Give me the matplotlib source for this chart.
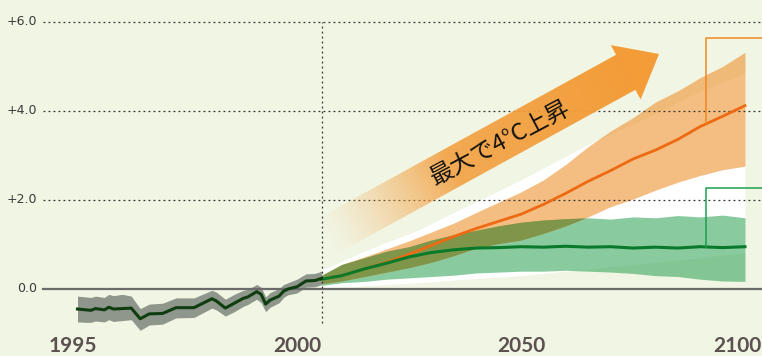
import numpy as np
import matplotlib.pyplot as plt
from matplotlib.patches import Polygon

# --- data ---
hist_years = [1951, 1953, 1954, 1955, 1957, 1958, 1959, 1961, 1963, 1965, 1967, 1970,
              1973, 1977, 1981, 1982, 1984, 1986, 1988, 1989, 1991, 1992, 1993, 1994,
              1996, 1997, 1998, 2000, 2002, 2004, 2005.5]
hist_mean = [-0.45, -0.47, -0.48, -0.44, -0.47, -0.41, -0.45, -0.44, -0.43, -0.67, -0.56, -0.55,
             -0.42, -0.42, -0.22, -0.27, -0.43, -0.32, -0.21, -0.18, -0.06, -0.12, -0.34, -0.25,
             -0.16, -0.05, 0.0, 0.05, 0.18, 0.19, 0.24]
hist_hi = [-0.16, -0.18, -0.19, -0.16, -0.19, -0.12, -0.15, -0.12, -0.16, -0.44, -0.34, -0.32,
           -0.2, -0.2, -0.03, -0.07, -0.23, -0.12, -0.03, -0.01, 0.1, 0.04, -0.18, -0.08,
           0.01, 0.1, 0.14, 0.22, 0.34, 0.35, 0.4]
hist_lo = [-0.74, -0.75, -0.75, -0.72, -0.74, -0.69, -0.73, -0.71, -0.69, -0.93, -0.81, -0.79,
           -0.65, -0.64, -0.43, -0.47, -0.61, -0.51, -0.39, -0.35, -0.23, -0.31, -0.51, -0.41,
           -0.31, -0.19, -0.13, -0.09, 0.04, 0.05, 0.1]

proj_years = [2005.5, 2010, 2015, 2020, 2025, 2030, 2035, 2040, 2045, 2050,
              2055, 2060, 2065, 2070, 2075, 2080, 2085, 2090, 2095, 2100]
high_mean = [0.22, 0.3, 0.45, 0.6, 0.78, 0.98, 1.18, 1.36, 1.52, 1.68,
             1.9, 2.15, 2.42, 2.66, 2.92, 3.12, 3.36, 3.65, 3.88, 4.12]
high_hi = [0.3, 0.55, 0.72, 0.9, 1.08, 1.28, 1.48, 1.72, 1.95, 2.18,
           2.45, 2.8, 3.2, 3.55, 3.85, 4.2, 4.45, 4.75, 5.0, 5.32]
high_lo = [0.12, 0.18, 0.28, 0.38, 0.48, 0.6, 0.75, 0.92, 1.02, 1.1,
           1.25, 1.42, 1.62, 1.85, 2.02, 2.22, 2.4, 2.55, 2.68, 2.76]
low_mean = [0.22, 0.3, 0.45, 0.58, 0.72, 0.82, 0.88, 0.92, 0.93, 0.95,
            0.94, 0.96, 0.94, 0.95, 0.92, 0.94, 0.92, 0.95, 0.93, 0.95]
low_hi = [0.32, 0.55, 0.7, 0.85, 0.95, 1.1, 1.22, 1.32, 1.42, 1.5,
          1.55, 1.58, 1.6, 1.57, 1.62, 1.6, 1.65, 1.62, 1.66, 1.6]
low_lo = [0.08, 0.14, 0.17, 0.22, 0.25, 0.28, 0.31, 0.36, 0.38, 0.4,
          0.4, 0.42, 0.4, 0.38, 0.35, 0.3, 0.28, 0.22, 0.18, 0.17]

env_years = [2005.5, 2015, 2020, 2027, 2035, 2050, 2065, 2080, 2090, 2100]
env_lo = [0.02, 0.07, 0.1, 0.14, 0.2, 0.3, 0.45, 0.6, 0.7, 0.82]
env_hi = [0.42, 0.85, 1.05, 1.32, 1.72, 2.45, 3.25, 3.95, 4.45, 4.85]

ytick_vals = [0.0, 2.0, 4.0, 6.0]
ytick_labels = ["0.0", "+2.0", "+4.0", "+6.0"]
xtick_vals = [1950, 2000, 2050, 2100]
xtick_labels = ["1995", "2000", "2050", "2100"]

BG = "#f1f5e4"
XMIN, XMAX = 1933.7, 2103.8
YMIN, YMAX = -1.506, 6.494


# pixel (top-left origin) -> data, only for the decorative arrow
def px2x(px):
    return XMIN + px * (XMAX - XMIN) / 762


def py2y(py):
    return YMAX - py * (YMAX - YMIN) / 356


fig = plt.figure(figsize=(7.62, 3.56), dpi=100, facecolor=BG)
ax = fig.add_axes([0, 0, 1, 1])
ax.set_facecolor(BG)
ax.axis("off")

# bands
ax.fill_between(env_years, env_lo, env_hi, color="white", lw=0, zorder=1)
ax.fill_between(proj_years, low_lo, low_hi, color="#3aa860", alpha=0.6, lw=0, zorder=2)
ax.fill_between(proj_years, high_lo, high_hi, color="#ee9535", alpha=0.62, lw=0, zorder=3)
ov_lo = np.maximum(high_lo, low_lo)
ov_hi = np.minimum(high_hi, low_hi)
ax.fill_between(proj_years, ov_lo, ov_hi, where=ov_hi > ov_lo, interpolate=True,
                color="#7f964a", lw=0, zorder=4)
ax.fill_between(hist_years, hist_lo, hist_hi, color="#8f978c", lw=0, zorder=4)

# grid lines
for v, lab in zip(ytick_vals[1:], ytick_labels[1:]):
    ax.plot([1943.3, XMAX], [v, v], color="#333333", lw=0.9, ls=(0, (1.5, 2.5)), zorder=5)
    ax.text(1942, v, lab, ha="right", va="center", fontsize=9, color="#3a3a3a")
ax.plot([1943.3, XMAX], [0, 0], color="#6b6b6b", lw=1.6, zorder=5)
ax.text(1942, 0, ytick_labels[0], ha="right", va="center", fontsize=9, color="#3a3a3a")
ax.plot([2005.5, 2005.5], [-0.76, 6.0], color="#333333", lw=0.9, ls=(0, (1.5, 2.5)), zorder=5)

# lines
ax.plot(proj_years, high_mean, color="#ee6a12", lw=2, zorder=6)
ax.plot(proj_years, low_mean, color="#0a7a2a", lw=2.2, zorder=6)
ax.plot(hist_years, hist_mean, color="#0f3d0f", lw=2.2, zorder=6)

# brackets
ax.plot([2091.3, 2091.3, XMAX], [3.72, 5.64, 5.64], color="#f08a1e", lw=1.1, zorder=6)
ax.plot([2091.3, 2091.3, XMAX], [0.95, 2.26, 2.26], color="#1aa050", lw=1.1, zorder=6)

# x labels (last one pushed against the right edge so it stays whole)
for v, lab in zip(xtick_vals, xtick_labels):
    if v == xtick_vals[-1]:
        ax.text(px2x(761), py2y(352), lab, ha="right", va="baseline", fontsize=15,
                fontweight="bold", family="Lato", color="#5b5250")
    else:
        ax.text(v, py2y(352), lab, ha="center", va="baseline", fontsize=15,
                fontweight="bold", family="Lato", color="#5b5250")

# arrow with gradient (pixel space)
S = np.array([326.0, 237.0])
T = np.array([659.0, 54.0])
L = np.linalg.norm(T - S)
u = (T - S) / L
n = np.array([u[1], -u[0]])
B = T - u * 38
pts = [S + n * 20, B + n * 20, B + n * 31, T, B - n * 31, B - n * 20, S - n * 20]
poly = Polygon([(px2x(p[0]), py2y(p[1])) for p in pts], closed=True,
               transform=ax.transData, fc="none", ec="none")
ax.add_patch(poly)

gx, gy = np.meshgrid(np.arange(300, 680), np.arange(30, 280))
s = ((gx - S[0]) * u[0] + (gy - S[1]) * u[1]) / L
alpha = np.clip(s / 0.38, 0, 1) ** 1.3 * 0.85 + 0.15 * np.clip((s - 0.4) / 0.5, 0, 1)
img = np.zeros(gx.shape + (4,))
img[..., 0] = 243 / 255
img[..., 1] = 156 / 255
img[..., 2] = 56 / 255
img[..., 3] = alpha
im = ax.imshow(img, extent=[px2x(300), px2x(680), py2y(280), py2y(30)],
               origin="upper", aspect="auto", interpolation="bilinear", zorder=7)
im.set_clip_path(poly)

ax.text(px2x(500), py2y(143), "最大で4°C上昇", rotation=28, rotation_mode="anchor",
        ha="center", va="center", fontsize=17, color="#111111",
        family=["Noto Sans CJK JP", "DejaVu Sans"], zorder=8)

ax.set_xlim(XMIN, XMAX)
ax.set_ylim(YMIN, YMAX)

fig.savefig("out.png", dpi=100, facecolor=BG)
